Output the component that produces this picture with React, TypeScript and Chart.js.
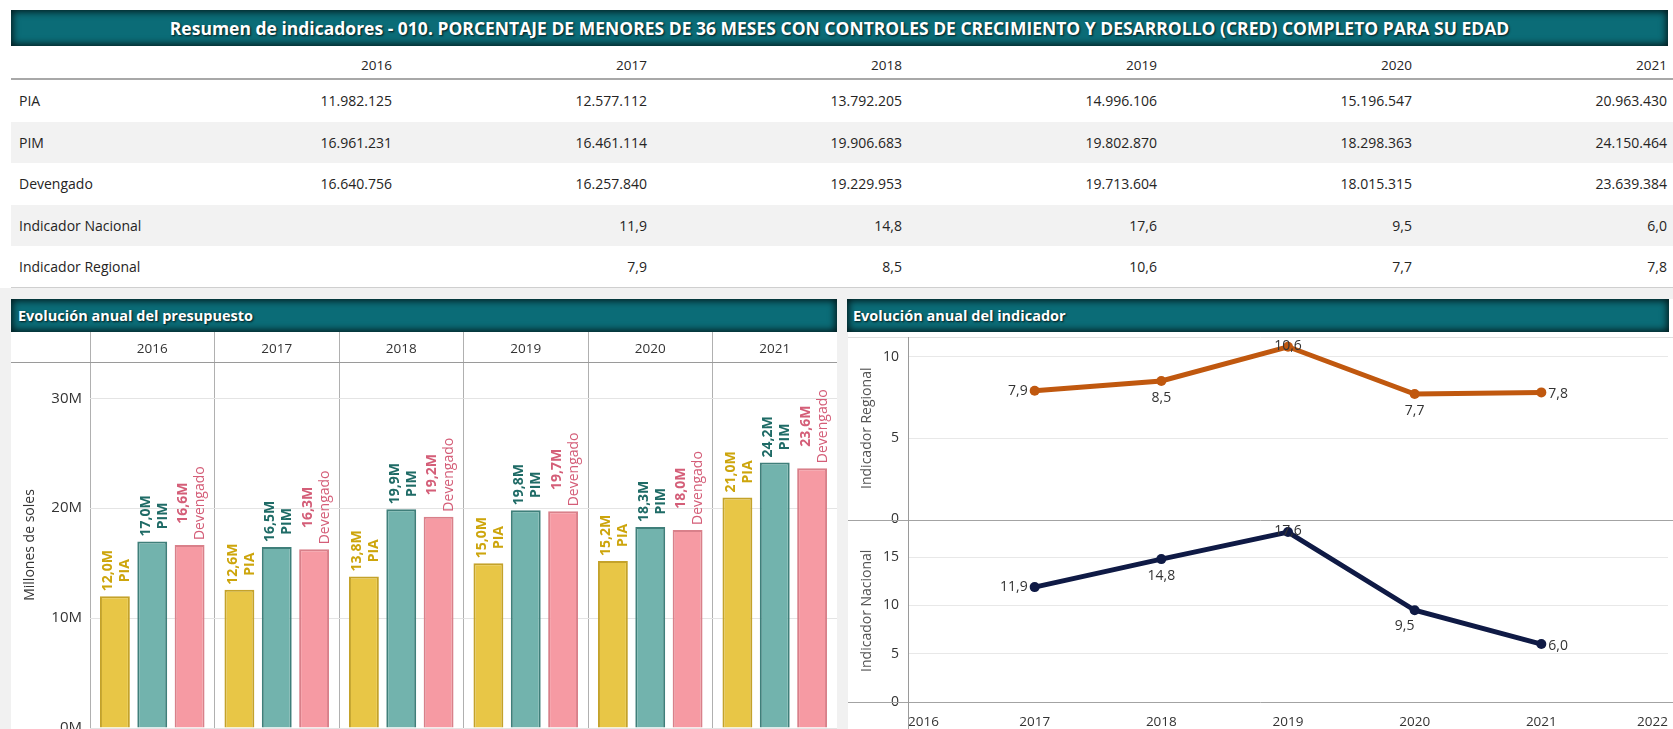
import React, { useEffect, useRef } from 'react';
import { Chart, registerables } from 'chart.js';

Chart.register(...registerables);

const FONT = '"Open Sans", "DejaVu Sans", sans-serif';

const TITLE =
  'Resumen de indicadores - 010. PORCENTAJE DE MENORES DE 36 MESES CON CONTROLES DE CRECIMIENTO Y DESARROLLO (CRED) COMPLETO PARA SU EDAD';
const BUDGET_TITLE = 'Evolución anual del presupuesto';
const INDICATOR_TITLE = 'Evolución anual del indicador';

const YEARS = ['2016', '2017', '2018', '2019', '2020', '2021'];
const PIA = [11982125, 12577112, 13792205, 14996106, 15196547, 20963430];
const PIM = [16961231, 16461114, 19906683, 19802870, 18298363, 24150464];
const DEVENGADO = [16640756, 16257840, 19229953, 19713604, 18015315, 23639384];
const NACIONAL: (number | null)[] = [null, 11.9, 14.8, 17.6, 9.5, 6.0];
const REGIONAL: (number | null)[] = [null, 7.9, 8.5, 10.6, 7.7, 7.8];

const SERIES_NAMES = ['PIA', 'PIM', 'Devengado'];
const ROW_NAMES = ['PIA', 'PIM', 'Devengado', 'Indicador Nacional', 'Indicador Regional'];

const BUDGET_TICKS = [0, 10000000, 20000000, 30000000];
const BUDGET_MAX = 33300000;
const REGIONAL_TICKS = [0, 5, 10];
const REGIONAL_MAX = 11.2;
const NACIONAL_TICKS = [0, 5, 10, 15];
const NACIONAL_MAX = 18.9;
const AXIS_YEARS = [2016, 2017, 2018, 2019, 2020, 2021, 2022];

// styles
const BAR_FILL = ['#E8C646', '#72B3AD', '#F69AA3'];
const BAR_EDGE = ['#C4A22A', '#3F7F7A', '#D9808A'];
const BAR_LABEL = ['#CDA50C', '#1F6B66', '#D45E78'];
const NAME_WEIGHT = ['bold', 'bold', 'normal'];
const REGIONAL_COLOR = '#C0580F';
const NACIONAL_COLOR = '#0F1A45';
const REGIONAL_LABEL_POS = ['left', 'below', 'center', 'below', 'right'];
const NACIONAL_LABEL_POS = ['left', 'below', 'center', 'belowLeft', 'right'];

const fmtThousands = (n: number) => String(Math.round(n)).replace(/\B(?=(\d{3})+(?!\d))/g, '.');
const fmtDec = (n: number | null) => (n === null ? '' : n.toFixed(1).replace('.', ','));
const fmtM = (n: number) => (n / 1e6).toFixed(1).replace('.', ',') + 'M';

const TABLE_ROWS: string[][] = [
  PIA.map(fmtThousands),
  PIM.map(fmtThousands),
  DEVENGADO.map(fmtThousands),
  NACIONAL.map(fmtDec),
  REGIONAL.map(fmtDec),
];

const barLabelPlugin = {
  id: 'barLabels',
  afterDatasetsDraw(chart: any) {
    const ctx = chart.ctx;
    chart.data.datasets.forEach((ds: any, di: number) => {
      const meta = chart.getDatasetMeta(di);
      meta.data.forEach((bar: any, i: number) => {
        const l1 = fmtM(ds.data[i]);
        const l2 = ds.label;
        ctx.save();
        ctx.translate(bar.x + 2, bar.y - 5);
        ctx.rotate(-Math.PI / 2);
        ctx.fillStyle = BAR_LABEL[di];
        const f1 = `bold 14px ${FONT}`;
        const f2 = `${NAME_WEIGHT[di]} 14px ${FONT}`;
        ctx.font = f1;
        const w1 = ctx.measureText(l1).width;
        ctx.font = f2;
        const w2 = ctx.measureText(l2).width;
        const W = Math.max(w1, w2);
        ctx.textAlign = 'center';
        ctx.textBaseline = 'middle';
        ctx.font = f1;
        ctx.fillText(l1, W / 2, -8.5);
        ctx.font = f2;
        ctx.fillText(l2, W / 2, 8.5);
        ctx.restore();
      });
    });
  },
  afterDraw(chart: any) {
    const { ctx, chartArea } = chart;
    ctx.save();
    ctx.strokeStyle = '#9a9a9a';
    ctx.lineWidth = 1;
    const y = Math.round(chartArea.top) + 0.5;
    ctx.beginPath();
    ctx.moveTo(0, y);
    ctx.lineTo(chartArea.left, y);
    ctx.stroke();
    ctx.restore();
  },
};

const lineFramePlugin = {
  id: 'lineFrame',
  beforeDatasetsDraw(chart: any) {
    const { ctx, chartArea, width, height } = chart;
    const hline = (y: number, color: string) => {
      const yy = Math.round(y) + 0.5;
      ctx.strokeStyle = color;
      ctx.beginPath();
      ctx.moveTo(0, yy);
      ctx.lineTo(width, yy);
      ctx.stroke();
    };
    ctx.save();
    ctx.lineWidth = 1;
    hline(chartArea.top, '#dedede');
    hline(chart.scales.yR.getPixelForValue(0), '#a3a3a3');
    hline(chart.scales.yN.getPixelForValue(0), '#a3a3a3');
    const x = Math.round(chartArea.left) + 0.5;
    ctx.strokeStyle = '#9a9a9a';
    ctx.beginPath();
    ctx.moveTo(x, chartArea.top);
    ctx.lineTo(x, height);
    ctx.stroke();
    ctx.restore();
  },
  afterDatasetsDraw(chart: any) {
    const ctx = chart.ctx;
    ctx.save();
    ctx.font = `14px ${FONT}`;
    ctx.fillStyle = '#333333';
    chart.data.datasets.forEach((ds: any, di: number) => {
      const meta = chart.getDatasetMeta(di);
      meta.data.forEach((pt: any, i: number) => {
        const txt = fmtDec(ds.data[i].y);
        const pos = ds.labelPos[i];
        let x = pt.x;
        let y = pt.y;
        let align = 'center';
        if (pos === 'left') {
          x -= 7;
          align = 'right';
        } else if (pos === 'right') {
          x += 7;
          y += 2;
          align = 'left';
        } else if (pos === 'below') {
          y += 17;
        } else if (pos === 'belowLeft') {
          x -= 10;
          y += 16;
        } else {
          y -= 1;
        }
        ctx.textAlign = align;
        ctx.textBaseline = 'middle';
        ctx.fillText(txt, x, y);
      });
    });
    ctx.restore();
  },
};

const toPoints = (arr: (number | null)[]) =>
  YEARS.map((yr, i) => ({ x: Number(yr), y: arr[i] })).filter((p) => p.y !== null);

const barStyle = (): React.CSSProperties => ({
  position: 'absolute',
  background: '#0b6c77',
  boxShadow: 'inset 0 0 7px 2px rgba(0,0,0,0.75)',
  color: '#fff',
  fontFamily: FONT,
  fontWeight: 700,
  textShadow: '1px 1px 2px rgba(0,0,0,0.8)',
  whiteSpace: 'nowrap',
  overflow: 'hidden',
});

export default function App() {
  const barRef = useRef<HTMLCanvasElement>(null);
  const lineRef = useRef<HTMLCanvasElement>(null);

  useEffect(() => {
    const yFit = (w: number) => (s: any) => {
      s.width = w;
      s.paddingTop = 0;
      s.paddingBottom = 0;
    };
    const bar = new Chart(barRef.current as HTMLCanvasElement, {
      type: 'bar',
      data: {
        labels: YEARS,
        datasets: [PIA, PIM, DEVENGADO].map((d, i) => ({
          label: SERIES_NAMES[i],
          data: d,
          backgroundColor: BAR_FILL[i],
          borderColor: BAR_EDGE[i],
          borderWidth: 2,
          categoryPercentage: 0.9,
          barPercentage: 0.8,
        })),
      },
      options: {
        responsive: false,
        animation: false,
        devicePixelRatio: 1,
        layout: { padding: { top: 0, bottom: 1, left: 0, right: 0 } },
        plugins: { legend: { display: false }, tooltip: { enabled: false } },
        scales: {
          x: {
            position: 'top',
            grid: { offset: true, color: '#b0b0b0', tickLength: 30, drawTicks: true },
            border: { display: true, color: '#9a9a9a' },
            ticks: {
              padding: -25,
              maxRotation: 0,
              autoSkip: false,
              color: '#333',
              font: { family: FONT, size: 13.5 },
            },
            afterFit: (s: any) => {
              s.height = 30;
              s.paddingLeft = 0;
              s.paddingRight = 0;
            },
          },
          y: {
            min: 0,
            max: BUDGET_MAX,
            afterBuildTicks: (s: any) => {
              s.ticks = BUDGET_TICKS.map((v) => ({ value: v }));
            },
            grid: { color: '#e4e4e4', drawTicks: false },
            border: { display: false },
            ticks: {
              padding: 8,
              color: '#333',
              font: { family: FONT, size: 15 },
              callback: (v: any) => Number(v) / 1e6 + 'M',
            },
            title: {
              display: true,
              text: 'Millones de soles',
              color: '#333',
              font: { family: FONT, size: 14 },
              padding: { top: 10.5, bottom: 0 },
            },
            afterFit: yFit(79),
          },
        },
      } as any,
      plugins: [barLabelPlugin],
    });

    const line = new Chart(lineRef.current as HTMLCanvasElement, {
      type: 'line',
      data: {
        datasets: [
          {
            label: 'Indicador Regional',
            data: toPoints(REGIONAL),
            yAxisID: 'yR',
            borderColor: REGIONAL_COLOR,
            backgroundColor: REGIONAL_COLOR,
            pointBackgroundColor: REGIONAL_COLOR,
            borderWidth: 5,
            pointRadius: 5,
            pointBorderWidth: 0,
            labelPos: REGIONAL_LABEL_POS,
          },
          {
            label: 'Indicador Nacional',
            data: toPoints(NACIONAL),
            yAxisID: 'yN',
            borderColor: NACIONAL_COLOR,
            backgroundColor: NACIONAL_COLOR,
            pointBackgroundColor: NACIONAL_COLOR,
            borderWidth: 5,
            pointRadius: 5,
            pointBorderWidth: 0,
            labelPos: NACIONAL_LABEL_POS,
          },
        ] as any,
      },
      options: {
        responsive: false,
        animation: false,
        devicePixelRatio: 1,
        layout: { padding: { top: 5, bottom: 0, left: 0, right: 0 } },
        plugins: { legend: { display: false }, tooltip: { enabled: false } },
        scales: {
          x: {
            type: 'linear',
            position: 'bottom',
            min: 2016,
            max: 2022,
            afterBuildTicks: (s: any) => {
              s.ticks = AXIS_YEARS.map((v) => ({ value: v }));
            },
            grid: { display: false },
            border: { display: false },
            ticks: {
              align: 'inner',
              padding: 4,
              color: '#333',
              font: { family: FONT, size: 13.5 },
              callback: (v: any) => String(v),
            },
            afterFit: (s: any) => {
              s.height = 27;
              s.paddingLeft = 0;
              s.paddingRight = 0;
            },
          },
          yR: {
            type: 'linear',
            position: 'left',
            stack: 'ind',
            stackWeight: 1,
            weight: 1,
            min: 0,
            max: REGIONAL_MAX,
            afterBuildTicks: (s: any) => {
              s.ticks = REGIONAL_TICKS.map((v) => ({ value: v }));
            },
            grid: {
              drawTicks: false,
              color: (c: any) => (c.tick && c.tick.value === 0 ? 'rgba(0,0,0,0)' : '#e8e8e8'),
            },
            border: { display: false },
            ticks: { padding: 9, color: '#333', font: { family: FONT, size: 14 } },
            title: {
              display: true,
              text: 'Indicador Regional',
              color: '#555',
              font: { family: FONT, size: 14 },
              padding: { top: 10.5, bottom: 0 },
            },
            afterFit: yFit(60),
          },
          yN: {
            type: 'linear',
            position: 'left',
            stack: 'ind',
            stackWeight: 1,
            weight: 0,
            min: 0,
            max: NACIONAL_MAX,
            afterBuildTicks: (s: any) => {
              s.ticks = NACIONAL_TICKS.map((v) => ({ value: v }));
            },
            grid: {
              drawTicks: false,
              color: (c: any) => (c.tick && c.tick.value === 0 ? 'rgba(0,0,0,0)' : '#e8e8e8'),
            },
            border: { display: false },
            ticks: { padding: 9, color: '#333', font: { family: FONT, size: 14 } },
            title: {
              display: true,
              text: 'Indicador Nacional',
              color: '#555',
              font: { family: FONT, size: 14 },
              padding: { top: 10.5, bottom: 0 },
            },
            afterFit: yFit(60),
          },
        },
      } as any,
      plugins: [lineFramePlugin],
    });

    return () => {
      bar.destroy();
      line.destroy();
    };
  }, []);

  const ROW_TOP = 79;
  const ROW_H = 41.6;
  const COL_RIGHT0 = 392;
  const COL_W = 255;

  return (
    <div
      style={{
        position: 'absolute',
        left: 0,
        top: 0,
        width: 1673,
        height: 729,
        overflow: 'hidden',
        background: '#ffffff',
        fontFamily: FONT,
        color: '#252423',
      }}
    >
      {/* main title */}
      <div
        style={{
          ...barStyle(),
          left: 11,
          top: 10,
          width: 1657,
          height: 36,
          lineHeight: '36px',
          fontSize: 17.5,
          textAlign: 'center',
        }}
      >
        {TITLE}
      </div>

      {/* table header */}
      {YEARS.map((y, k) => (
        <div
          key={'h' + y}
          style={{
            position: 'absolute',
            left: COL_RIGHT0 + COL_W * k - 200,
            width: 200,
            top: 53,
            height: 24,
            lineHeight: '24px',
            textAlign: 'right',
            fontSize: 13.5,
          }}
        >
          {y}
        </div>
      ))}
      <div style={{ position: 'absolute', left: 11, width: 1662, top: 78, height: 2, background: '#a8a8a8' }} />

      {/* table rows */}
      {ROW_NAMES.map((name, r) => (
        <div
          key={name}
          style={{
            position: 'absolute',
            left: 11,
            width: 1662,
            top: ROW_TOP + 1 + r * ROW_H,
            height: ROW_H,
            background: r % 2 === 1 ? '#f2f2f2' : '#ffffff',
          }}
        >
          <div
            style={{
              position: 'absolute',
              left: 8,
              top: 0,
              height: ROW_H,
              lineHeight: ROW_H + 'px',
              fontSize: 14,
            }}
          >
            {name}
          </div>
          {TABLE_ROWS[r].map((v, k) => (
            <div
              key={k}
              style={{
                position: 'absolute',
                left: COL_RIGHT0 + COL_W * k - 200 - 11,
                width: 200,
                top: 0,
                height: ROW_H,
                lineHeight: ROW_H + 'px',
                textAlign: 'right',
                fontSize: 14,
              }}
            >
              {v}
            </div>
          ))}
        </div>
      ))}
      <div style={{ position: 'absolute', left: 11, width: 1662, top: 287, height: 1, background: '#cfcfcf' }} />

      {/* panel backgrounds */}
      <div style={{ position: 'absolute', left: 0, width: 1673, top: 288, height: 441, background: '#f1f1f1' }} />
      <div style={{ position: 'absolute', left: 11, width: 826, top: 299, height: 430, background: '#ffffff' }} />
      <div style={{ position: 'absolute', left: 848, width: 825, top: 299, height: 430, background: '#ffffff' }} />

      {/* panel titles */}
      <div
        style={{
          ...barStyle(),
          left: 11,
          top: 299,
          width: 826,
          height: 33,
          lineHeight: '33px',
          fontSize: 14.5,
          paddingLeft: 7,
          boxSizing: 'border-box',
        }}
      >
        {BUDGET_TITLE}
      </div>
      <div
        style={{
          ...barStyle(),
          left: 847,
          top: 299,
          width: 822,
          height: 33,
          lineHeight: '33px',
          fontSize: 14.5,
          paddingLeft: 6,
          boxSizing: 'border-box',
        }}
      >
        {INDICATOR_TITLE}
      </div>

      <canvas
        ref={barRef}
        width={826}
        height={397}
        style={{ position: 'absolute', left: 11, top: 332, width: 826, height: 397 }}
      />
      <canvas
        ref={lineRef}
        width={825}
        height={397}
        style={{ position: 'absolute', left: 848, top: 332, width: 825, height: 397 }}
      />
    </div>
  );
}
